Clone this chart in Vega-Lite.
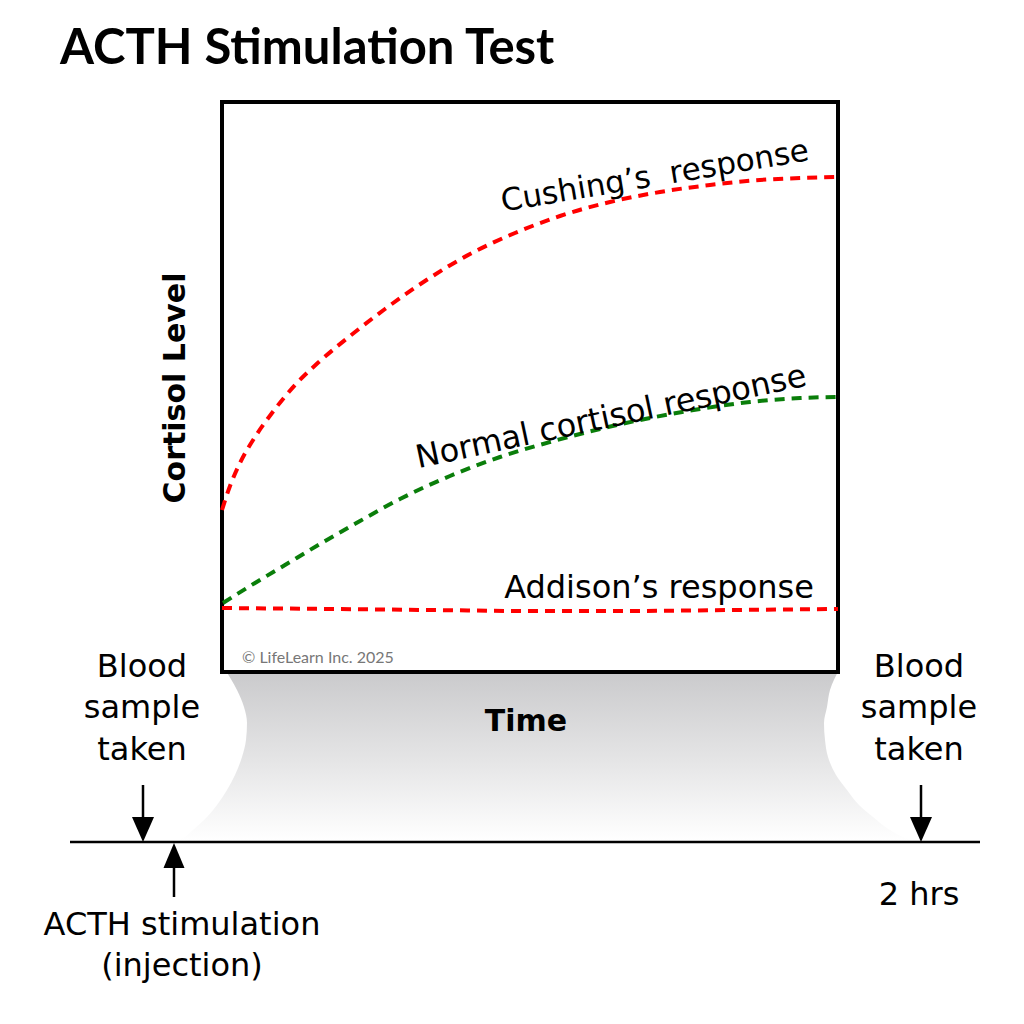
{
  "$schema": "https://vega.github.io/schema/vega-lite/v6.json",
  "width": 1024,
  "height": 1024,
  "autosize": {"type": "fit", "contains": "padding"},
  "padding": 0,
  "background": "white",
  "config": {"view": {"stroke": null}},
  "datasets": {
    "funnel": [
      {"y": 668, "xl": 224, "xr": 840},
      {"y": 690, "xl": 237, "xr": 830},
      {"y": 707, "xl": 244, "xr": 827},
      {"y": 723, "xl": 247, "xr": 824},
      {"y": 740, "xl": 246, "xr": 825},
      {"y": 757, "xl": 242, "xr": 828},
      {"y": 775, "xl": 235, "xr": 836},
      {"y": 790, "xl": 227, "xr": 847},
      {"y": 805, "xl": 217, "xr": 859},
      {"y": 817, "xl": 207, "xr": 873},
      {"y": 830, "xl": 193, "xr": 890},
      {"y": 837, "xl": 185, "xr": 903},
      {"y": 841, "xl": 178, "xr": 915}
    ],
    "box": [{"x1": 222, "x2": 838, "y1": 102, "y2": 672}],
    "curves": [
      {"curve": "Cushing's", "x": 222, "y": 510},
      {"curve": "Cushing's", "x": 230, "y": 486},
      {"curve": "Cushing's", "x": 240, "y": 463},
      {"curve": "Cushing's", "x": 255, "y": 437},
      {"curve": "Cushing's", "x": 272, "y": 413},
      {"curve": "Cushing's", "x": 295, "y": 385},
      {"curve": "Cushing's", "x": 320, "y": 361},
      {"curve": "Cushing's", "x": 350, "y": 336},
      {"curve": "Cushing's", "x": 385, "y": 309},
      {"curve": "Cushing's", "x": 425, "y": 281},
      {"curve": "Cushing's", "x": 470, "y": 254},
      {"curve": "Cushing's", "x": 515, "y": 233},
      {"curve": "Cushing's", "x": 560, "y": 216},
      {"curve": "Cushing's", "x": 610, "y": 202},
      {"curve": "Cushing's", "x": 660, "y": 192},
      {"curve": "Cushing's", "x": 710, "y": 185},
      {"curve": "Cushing's", "x": 760, "y": 180},
      {"curve": "Cushing's", "x": 800, "y": 178},
      {"curve": "Cushing's", "x": 838, "y": 177},
      {"curve": "Normal", "x": 223, "y": 603},
      {"curve": "Normal", "x": 250, "y": 586},
      {"curve": "Normal", "x": 285, "y": 565},
      {"curve": "Normal", "x": 320, "y": 544},
      {"curve": "Normal", "x": 360, "y": 521},
      {"curve": "Normal", "x": 400, "y": 499},
      {"curve": "Normal", "x": 450, "y": 476},
      {"curve": "Normal", "x": 500, "y": 457},
      {"curve": "Normal", "x": 550, "y": 442},
      {"curve": "Normal", "x": 600, "y": 429},
      {"curve": "Normal", "x": 650, "y": 418},
      {"curve": "Normal", "x": 700, "y": 409},
      {"curve": "Normal", "x": 750, "y": 402},
      {"curve": "Normal", "x": 800, "y": 398},
      {"curve": "Normal", "x": 838, "y": 397},
      {"curve": "Addison's", "x": 222, "y": 608},
      {"curve": "Addison's", "x": 330, "y": 609},
      {"curve": "Addison's", "x": 430, "y": 610},
      {"curve": "Addison's", "x": 530, "y": 611},
      {"curve": "Addison's", "x": 630, "y": 611},
      {"curve": "Addison's", "x": 730, "y": 610},
      {"curve": "Addison's", "x": 838, "y": 609}
    ],
    "timeline": [{"x1": 70, "x2": 980, "y": 842}],
    "shafts": [
      {"x": 143, "y1": 785, "y2": 832},
      {"x": 921, "y1": 785, "y2": 832},
      {"x": 174, "y1": 852, "y2": 897}
    ],
    "headsDown": [{"x": 143, "y": 842}, {"x": 921, "y": 842}],
    "headsUp": [{"x": 174, "y": 843}],
    "title": [{"x": 60, "y": 64, "text": "ACTH Stimulation Test"}],
    "timeLabel": [{"x": 526, "y": 731, "text": "Time"}],
    "levelLabel": [{"x": 176, "y": 388, "text": "Cortisol Level"}],
    "notes": [
      {"x": 142, "y": 677, "text": "Blood"},
      {"x": 142, "y": 718, "text": "sample"},
      {"x": 142, "y": 760, "text": "taken"},
      {"x": 919, "y": 677, "text": "Blood"},
      {"x": 919, "y": 718, "text": "sample"},
      {"x": 919, "y": 760, "text": "taken"},
      {"x": 919, "y": 905, "text": "2 hrs"},
      {"x": 182, "y": 935, "text": "ACTH stimulation"},
      {"x": 182, "y": 976, "text": "(injection)"},
      {"x": 659, "y": 598, "text": "Addison’s response"}
    ],
    "cushingLabel": [{"x": 655, "y": 177, "text": "Cushing’s\u00a0 response"}],
    "normalLabel": [{"x": 611, "y": 417, "text": "Normal cortisol response"}],
    "copyright": [{"x": 242, "y": 663, "text": "© LifeLearn Inc. 2025"}]
  },
  "layer": [
    {
      "data": {"name": "funnel"},
      "mark": {
        "type": "area",
        "orient": "horizontal",
        "interpolate": "monotone",
        "fill": {
          "gradient": "linear",
          "x1": 0, "y1": 0, "x2": 0, "y2": 1,
          "stops": [
            {"offset": 0, "color": "#c9c9cb"},
            {"offset": 0.5, "color": "#e3e3e4"},
            {"offset": 1, "color": "#ffffff"}
          ]
        }
      },
      "encoding": {
        "y": {"field": "y", "type": "quantitative", "scale": {"domain": [0, 1024], "nice": false, "zero": false, "reverse": true}, "axis": null},
        "x": {"field": "xl", "type": "quantitative", "scale": {"domain": [0, 1024], "nice": false, "zero": false}, "axis": null},
        "x2": {"field": "xr"}
      }
    },
    {
      "data": {"name": "box"},
      "mark": {"type": "rect", "fill": "white", "stroke": "black", "strokeWidth": 4},
      "encoding": {
        "x": {"field": "x1", "type": "quantitative", "scale": {"domain": [0, 1024], "nice": false, "zero": false}, "axis": null},
        "x2": {"field": "x2"},
        "y": {"field": "y1", "type": "quantitative", "scale": {"domain": [0, 1024], "nice": false, "zero": false, "reverse": true}, "axis": null},
        "y2": {"field": "y2"}
      }
    },
    {
      "data": {"name": "curves"},
      "mark": {"type": "line", "interpolate": "monotone", "strokeWidth": 4, "strokeDash": [10, 7]},
      "encoding": {
        "x": {"field": "x", "type": "quantitative", "scale": {"domain": [0, 1024], "nice": false, "zero": false}, "axis": null},
        "y": {"field": "y", "type": "quantitative", "scale": {"domain": [0, 1024], "nice": false, "zero": false, "reverse": true}, "axis": null},
        "color": {"field": "curve", "type": "nominal", "scale": {"domain": ["Cushing's", "Normal", "Addison's"], "range": ["#ff0000", "#0a7e0a", "#ff0000"]}, "legend": null}
      }
    },
    {
      "data": {"name": "timeline"},
      "mark": {"type": "rule", "stroke": "black", "strokeWidth": 2.5},
      "encoding": {
        "x": {"field": "x1", "type": "quantitative", "scale": {"domain": [0, 1024], "nice": false, "zero": false}, "axis": null},
        "x2": {"field": "x2"},
        "y": {"field": "y", "type": "quantitative", "scale": {"domain": [0, 1024], "nice": false, "zero": false, "reverse": true}, "axis": null}
      }
    },
    {
      "data": {"name": "shafts"},
      "mark": {"type": "rule", "stroke": "black", "strokeWidth": 2.5},
      "encoding": {
        "x": {"field": "x", "type": "quantitative", "scale": {"domain": [0, 1024], "nice": false, "zero": false}, "axis": null},
        "y": {"field": "y1", "type": "quantitative", "scale": {"domain": [0, 1024], "nice": false, "zero": false, "reverse": true}, "axis": null},
        "y2": {"field": "y2"}
      }
    },
    {
      "data": {"name": "headsDown"},
      "mark": {"type": "point", "shape": "M-0.88,-2L0.88,-2L0,0Z", "size": 625, "filled": true, "fill": "black", "stroke": null, "opacity": 1},
      "encoding": {
        "x": {"field": "x", "type": "quantitative", "scale": {"domain": [0, 1024], "nice": false, "zero": false}, "axis": null},
        "y": {"field": "y", "type": "quantitative", "scale": {"domain": [0, 1024], "nice": false, "zero": false, "reverse": true}, "axis": null}
      }
    },
    {
      "data": {"name": "headsUp"},
      "mark": {"type": "point", "shape": "M-0.84,2L0.84,2L0,0Z", "size": 625, "filled": true, "fill": "black", "stroke": null, "opacity": 1},
      "encoding": {
        "x": {"field": "x", "type": "quantitative", "scale": {"domain": [0, 1024], "nice": false, "zero": false}, "axis": null},
        "y": {"field": "y", "type": "quantitative", "scale": {"domain": [0, 1024], "nice": false, "zero": false, "reverse": true}, "axis": null}
      }
    },
    {
      "data": {"name": "title"},
      "mark": {"type": "text", "font": "Lato", "fontWeight": "bold", "fontSize": 49, "align": "left", "baseline": "alphabetic", "color": "black"},
      "encoding": {
        "x": {"field": "x", "type": "quantitative", "scale": {"domain": [0, 1024], "nice": false, "zero": false}, "axis": null},
        "y": {"field": "y", "type": "quantitative", "scale": {"domain": [0, 1024], "nice": false, "zero": false, "reverse": true}, "axis": null},
        "text": {"field": "text"}
      }
    },
    {
      "data": {"name": "timeLabel"},
      "mark": {"type": "text", "font": "DejaVu Sans", "fontWeight": "bold", "fontSize": 30, "align": "center", "baseline": "alphabetic", "color": "black"},
      "encoding": {
        "x": {"field": "x", "type": "quantitative", "scale": {"domain": [0, 1024], "nice": false, "zero": false}, "axis": null},
        "y": {"field": "y", "type": "quantitative", "scale": {"domain": [0, 1024], "nice": false, "zero": false, "reverse": true}, "axis": null},
        "text": {"field": "text"}
      }
    },
    {
      "data": {"name": "levelLabel"},
      "mark": {"type": "text", "font": "DejaVu Sans", "fontWeight": "bold", "fontSize": 30, "align": "center", "baseline": "middle", "angle": -90, "color": "black"},
      "encoding": {
        "x": {"field": "x", "type": "quantitative", "scale": {"domain": [0, 1024], "nice": false, "zero": false}, "axis": null},
        "y": {"field": "y", "type": "quantitative", "scale": {"domain": [0, 1024], "nice": false, "zero": false, "reverse": true}, "axis": null},
        "text": {"field": "text"}
      }
    },
    {
      "data": {"name": "notes"},
      "mark": {"type": "text", "font": "DejaVu Sans", "fontSize": 32, "align": "center", "baseline": "alphabetic", "color": "black"},
      "encoding": {
        "x": {"field": "x", "type": "quantitative", "scale": {"domain": [0, 1024], "nice": false, "zero": false}, "axis": null},
        "y": {"field": "y", "type": "quantitative", "scale": {"domain": [0, 1024], "nice": false, "zero": false, "reverse": true}, "axis": null},
        "text": {"field": "text"}
      }
    },
    {
      "data": {"name": "cushingLabel"},
      "mark": {"type": "text", "font": "DejaVu Sans", "fontSize": 31, "align": "center", "baseline": "middle", "angle": -9.5, "color": "black"},
      "encoding": {
        "x": {"field": "x", "type": "quantitative", "scale": {"domain": [0, 1024], "nice": false, "zero": false}, "axis": null},
        "y": {"field": "y", "type": "quantitative", "scale": {"domain": [0, 1024], "nice": false, "zero": false, "reverse": true}, "axis": null},
        "text": {"field": "text"}
      }
    },
    {
      "data": {"name": "normalLabel"},
      "mark": {"type": "text", "font": "DejaVu Sans", "fontSize": 32, "align": "center", "baseline": "middle", "angle": -12, "color": "black"},
      "encoding": {
        "x": {"field": "x", "type": "quantitative", "scale": {"domain": [0, 1024], "nice": false, "zero": false}, "axis": null},
        "y": {"field": "y", "type": "quantitative", "scale": {"domain": [0, 1024], "nice": false, "zero": false, "reverse": true}, "axis": null},
        "text": {"field": "text"}
      }
    },
    {
      "data": {"name": "copyright"},
      "mark": {"type": "text", "font": "Lato", "fontSize": 16, "align": "left", "baseline": "alphabetic", "color": "#777777"},
      "encoding": {
        "x": {"field": "x", "type": "quantitative", "scale": {"domain": [0, 1024], "nice": false, "zero": false}, "axis": null},
        "y": {"field": "y", "type": "quantitative", "scale": {"domain": [0, 1024], "nice": false, "zero": false, "reverse": true}, "axis": null},
        "text": {"field": "text"}
      }
    }
  ]
}
